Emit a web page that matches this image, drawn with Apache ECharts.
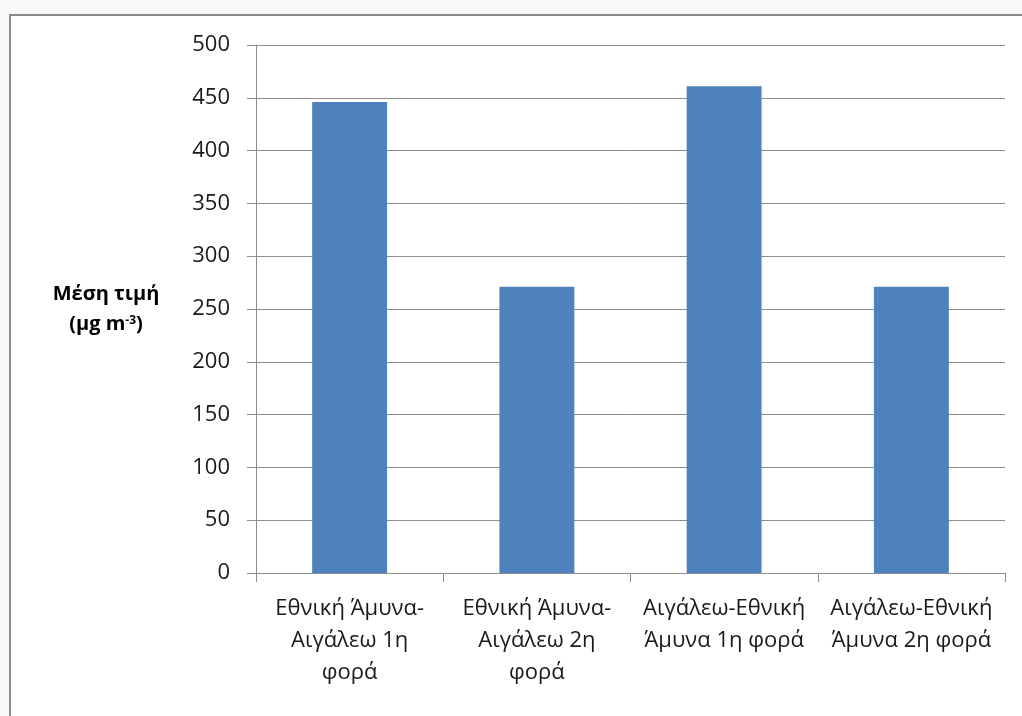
<!DOCTYPE html>
<html>
<head>
<meta charset="utf-8">
<style>
  html, body { margin: 0; padding: 0; background: #f9f9f9; }
  #chart { width: 1022px; height: 716px; }
</style>
<script src="https://cdn.jsdelivr.net/npm/echarts@6/dist/echarts.min.js"></script>
</head>
<body>
<div id="chart"></div>
<script>
// Mean concentration per route and run
const categories = [
  'Εθνική Άμυνα-\nΑιγάλεω 1η\nφορά',
  'Εθνική Άμυνα-\nΑιγάλεω 2η\nφορά',
  'Αιγάλεω-Εθνική\nΆμυνα 1η φορά',
  'Αιγάλεω-Εθνική\nΆμυνα 2η φορά'
];
const meanValues = [446, 271, 461, 271];
const yTicks = { min: 0, max: 500, interval: 50 };

const chart = echarts.init(document.getElementById('chart'));
const gray = '#8c8c8c';
const font = '"Open Sans", "Noto Sans", sans-serif';

chart.setOption({
  animation: false,
  backgroundColor: 'transparent',
  graphic: [{
    type: 'rect',
    z: -10,
    silent: true,
    shape: { x: 10, y: 15, width: 1030, height: 720 },
    style: { fill: '#ffffff', stroke: '#8a8a8a', lineWidth: 2 }
  }],
  grid: { left: 256, right: 17, top: 45, bottom: 143 },
  xAxis: {
    type: 'category',
    data: categories,
    axisLine: { lineStyle: { color: gray, width: 1 } },
    axisTick: { show: true, length: 9, lineStyle: { color: gray } },
    axisLabel: {
      interval: 0,
      margin: 20,
      color: '#1a1a1a',
      fontFamily: font,
      fontSize: 22,
      lineHeight: 32,
      align: 'center'
    }
  },
  yAxis: {
    type: 'value',
    min: yTicks.min,
    max: yTicks.max,
    interval: yTicks.interval,
    name: '{t|Μέση τιμή}\n{t|(μg m}{s|-3}{t|)}',
    nameLocation: 'middle',
    nameRotate: 0,
    nameGap: 150,
    nameTextStyle: {
      align: 'center',
      rich: {
        t: { fontFamily: font, fontWeight: 'bold', fontSize: 20, color: '#000', lineHeight: 30 },
        s: { fontFamily: font, fontWeight: 'bold', fontSize: 12, color: '#000', verticalAlign: 'top', lineHeight: 14, padding: [6, 0, 0, 0] }
      }
    },
    axisLine: { show: true, lineStyle: { color: gray, width: 1 } },
    axisTick: { show: true, length: 9, lineStyle: { color: gray } },
    splitLine: { show: true, lineStyle: { color: gray, width: 1 } },
    axisLabel: {
      margin: 26,
      color: '#1a1a1a',
      fontFamily: font,
      fontSize: 22
    }
  },
  series: [{
    type: 'bar',
    data: meanValues,
    barWidth: '40%',
    itemStyle: { color: '#4f81bd' }
  }]
});
</script>
</body>
</html>
